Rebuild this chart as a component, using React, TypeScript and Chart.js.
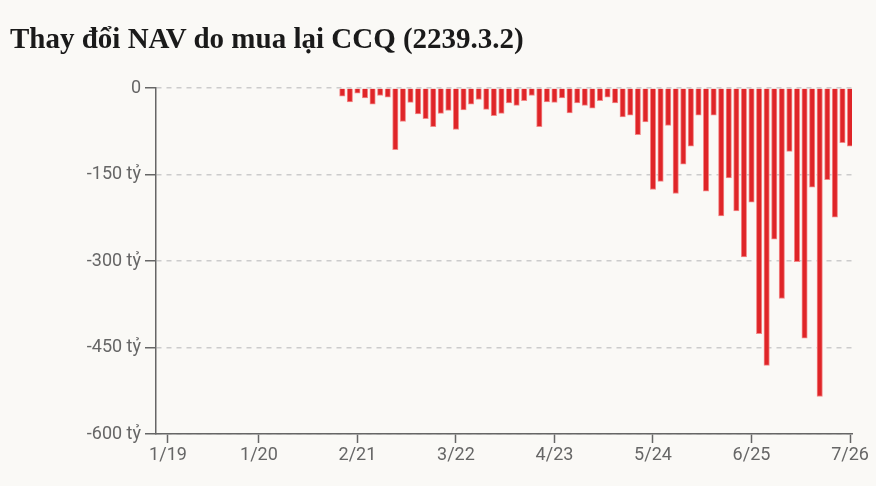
import React, { useEffect, useRef } from 'react';
import { Chart, registerables } from 'chart.js';

Chart.register(...registerables);

// monthly change in NAV from fund certificate redemptions (tỷ đồng)
const firstMonth = '12/20';
const redemptions = [
    -14, -24, -9, -17, -28, -13, -16, -107, -58, -25,
    -45, -53, -67, -44, -39, -72, -38, -28, -20, -37,
    -48, -44, -26, -30, -22, -13, -67, -24, -25, -17,
    -43, -26, -30, -35, -22, -16, -26, -50, -47, -81,
    -59, -176, -162, -65, -183, -132, -101, -47, -179, -47,
    -222, -156, -213, -293, -198, -426, -481, -262, -365, -110,
    -301, -434, -172, -535, -159, -224, -95, -101,
];
const tickLabels = ['1/19', '1/20', '2/21', '3/22', '4/23', '5/24', '6/25', '7/26'];
const yTicks = [0, -150, -300, -450, -600];

const BASE_YEAR = 2019;

const toIndex = (label: string) => {
    const [m, y] = label.split('/').map(Number);
    return (2000 + y - BASE_YEAR) * 12 + (m - 1);
};
const toLabel = (idx: number) => {
    const m = (idx % 12) + 1;
    const y = BASE_YEAR + Math.floor(idx / 12) - 2000;
    return `${m}/${String(y).padStart(2, '0')}`;
};

const startIdx = toIndex(firstMonth);
const points = redemptions.map((v, i) => ({ x: startIdx + i, y: v }));
const tickIdx = tickLabels.map(toIndex);

const BG = '#faf9f6';
const AXIS = '#666666';

const App: React.FC = () => {
    const chartRef = useRef<HTMLCanvasElement>(null);
    const chartInstance = useRef<Chart | null>(null);

    useEffect(() => {
        document.body.style.margin = '0';
        document.body.style.background = BG;
        if (!chartRef.current) return;
        if (chartInstance.current) chartInstance.current.destroy();

        chartInstance.current = new Chart(chartRef.current, {
            type: 'bar',
            data: {
                datasets: [
                    {
                        data: points,
                        backgroundColor: '#df2528',
                        borderColor: 'rgba(242, 130, 130, 0.95)',
                        borderWidth: 1,
                        borderSkipped: 'start',
                        barThickness: 5.4,
                    },
                ],
            },
            options: {
                responsive: false,
                animation: false,
                layout: { padding: { top: 88, right: 24, left: 0, bottom: 0 } },
                plugins: {
                    legend: { display: false },
                    tooltip: { enabled: false },
                },
                scales: {
                    x: {
                        type: 'linear',
                        offset: false,
                        min: -1.58,
                        max: 90.26,
                        afterBuildTicks: (scale: any) => {
                            scale.ticks = tickIdx.map((v) => ({ value: v }));
                        },
                        afterFit: (scale: any) => {
                            scale.height = 52;
                        },
                        border: { display: true, color: AXIS, width: 1.5 },
                        grid: {
                            offset: false,
                            drawOnChartArea: false,
                            drawTicks: true,
                            tickLength: 9,
                            tickColor: AXIS,
                            tickWidth: 1.5,
                        },
                        ticks: {
                            autoSkip: false,
                            maxRotation: 0,
                            padding: 2,
                            color: AXIS,
                            font: { family: 'Roboto', size: 18 },
                            callback: (v: any) => toLabel(Number(v)),
                        },
                    },
                    y: {
                        min: -600,
                        max: 0,
                        afterBuildTicks: (scale: any) => {
                            scale.ticks = yTicks.map((v) => ({ value: v }));
                        },
                        afterFit: (scale: any) => {
                            scale.width = 156;
                        },
                        // in v4 border.dash also styles the grid lines
                        border: { display: true, color: AXIS, width: 1.5, dash: [5, 5] },
                        grid: {
                            color: '#cccccc',
                            lineWidth: 1.5,
                            tickLength: 11,
                            tickColor: AXIS,
                            tickWidth: 1.5,
                            tickBorderDash: [],
                        },
                        ticks: {
                            padding: 4,
                            color: AXIS,
                            font: { family: 'Roboto', size: 18 },
                            callback: (v: any) => (Number(v) === 0 ? '0' : `${v} tỷ`),
                        },
                    },
                },
            },
        });

        return () => {
            if (chartInstance.current) {
                chartInstance.current.destroy();
                chartInstance.current = null;
            }
        };
    }, []);

    return (
        <div style={{ position: 'relative', width: 876, height: 486, background: BG, overflow: 'hidden' }}>
            <div
                style={{
                    position: 'absolute',
                    left: 10,
                    top: 22,
                    fontFamily: '"Liberation Serif", serif',
                    fontWeight: 700,
                    fontSize: 29,
                    color: '#1a1a1a',
                    whiteSpace: 'nowrap',
                    zIndex: 1,
                }}
            >
                Thay đổi NAV do mua lại CCQ (2239.3.2)
            </div>
            <canvas ref={chartRef} width={876} height={486} style={{ position: 'absolute', left: 0, top: 0 }} />
        </div>
    );
};

export default App;
